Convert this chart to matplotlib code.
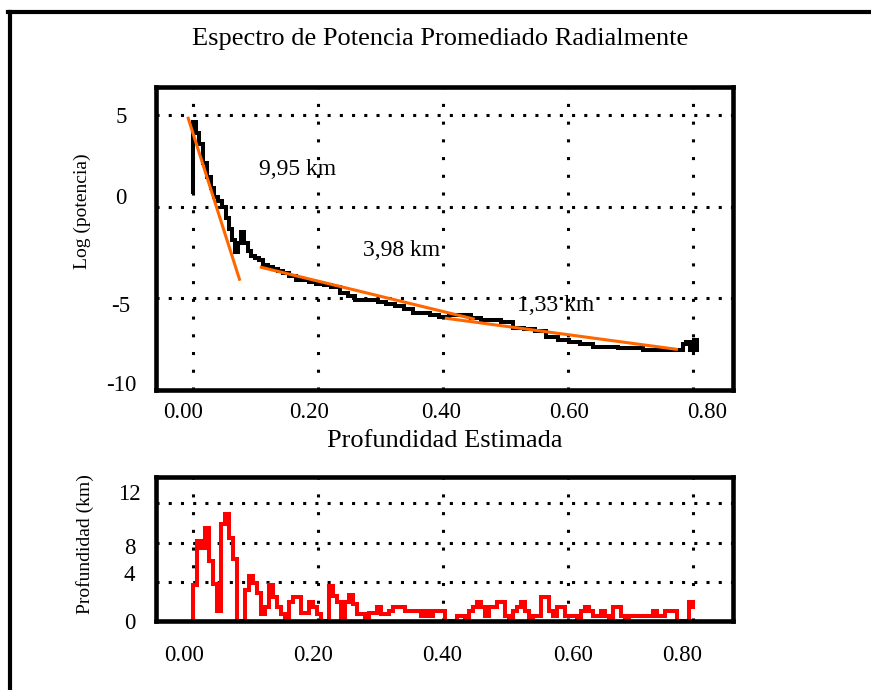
import numpy as np
import matplotlib.pyplot as plt
from matplotlib.lines import Line2D

plt.rcParams['font.family'] = ['Liberation Serif', 'DejaVu Serif']

# espectro promediado radialmente: número de onda vs log(potencia)
k_espectro = [0.000, 0.000, 0.006, 0.011, 0.017, 0.023, 0.029, 0.035, 0.041, 0.047,
              0.053, 0.058, 0.063, 0.068, 0.073, 0.078, 0.083, 0.088, 0.094, 0.100,
              0.106, 0.113, 0.120, 0.128, 0.136, 0.145, 0.155, 0.166, 0.176, 0.187,
              0.198, 0.210, 0.222, 0.236, 0.248, 0.260, 0.272, 0.284, 0.296, 0.310,
              0.324, 0.338, 0.352, 0.366, 0.380, 0.394, 0.410, 0.428, 0.446, 0.462,
              0.478, 0.494, 0.512, 0.530, 0.548, 0.566, 0.584, 0.602, 0.620, 0.640,
              0.660, 0.680, 0.700, 0.720, 0.740, 0.760, 0.776, 0.784, 0.790, 0.796,
              0.802, 0.807]
log_potencia = [0.8, 4.6, 4.0, 3.4, 2.4, 1.6, 1.0, 0.5, 0.3, 0.0,
                -0.6, -1.2, -1.8, -2.5, -2.0, -1.4, -2.0, -2.4, -2.7, -2.8,
                -2.9, -3.2, -3.3, -3.4, -3.5, -3.6, -3.8, -4.0, -4.0, -4.1,
                -4.2, -4.3, -4.4, -4.7, -4.9, -5.1, -5.1, -5.1, -5.2, -5.3,
                -5.4, -5.6, -5.8, -5.8, -5.9, -6.0, -5.9, -5.9, -6.1, -6.2,
                -6.2, -6.3, -6.6, -6.7, -6.8, -7.1, -7.3, -7.4, -7.5, -7.65,
                -7.65, -7.7, -7.7, -7.8, -7.8, -7.8, -7.8, -7.5, -7.4, -7.8,
                -7.3, -7.8]

# rectas ajustadas a cada tramo del espectro
tramo_k = [(-0.007, 0.075), (0.110, 0.449), (0.406, 0.774)]
tramo_y = [(4.82, -3.96), (-3.31, -6.12), (-6.09, -7.78)]
etiquetas = ['9,95 km', '3,98 km', '1,33 km']
etiqueta_k = [0.168, 0.335, 0.581]
etiqueta_y = [2.0, -2.37, -5.37]

# profundidad estimada por ventana
paso_k = 0.0064
profundidad = [3.7, 8.2, 7.5, 9.5, 6.1, 3.8, 1.0, 9.9, 10.9, 8.5,
               6.3, 0, 0, 3.2, 4.6, 3.9, 2.9, 0.7, 1.4, 3.7,
               2.4, 1.4, 0.7, 0, 1.9, 2.4, 2.4, 0.8, 0.8, 1.9,
               1.4, 0.7, 0, 0, 3.6, 2.6, 1.9, 0, 1.9, 2.7,
               1.7, 0.7, 0.7, 0, 0.8, 0.8, 1.4, 0.7, 0.7, 1.0,
               1.4, 1.4, 1.4, 1.0, 1.0, 1.0, 1.0, 0.5, 1.0, 0.5,
               1.0, 1.0, 1.0, 0, 0, 0, 0.5, 0.5, 0, 1.0,
               1.4, 1.9, 1.4, 0.5, 1.4, 1.4, 1.9, 1.9, 0.5, 0,
               1.0, 1.4, 1.9, 1.0, 0, 0.5, 0.5, 2.4, 2.4, 1.0,
               0.5, 1.4, 1.4, 0.5, 0.5, 0.5, 0, 1.0, 1.4, 1.0,
               0.5, 0.5, 1.0, 0.5, 0, 1.4, 1.4, 0.5, 0, 0.5,
               0.5, 0.5, 0.5, 0.5, 0.5, 1.0, 0.5, 0.5, 1.0, 1.0,
               1.0, 0, 0, 0, 1.9, 1.4]
k_prof = paso_k * np.arange(len(profundidad))

# rejilla y rótulos (los rótulos no caen justo sobre la rejilla)
xgrid = [0.0, 0.2, 0.4, 0.6, 0.8]
xlab = ['0.00', '0.20', '0.40', '0.60', '0.80']
xpos_sup = [-0.0155, 0.187, 0.398, 0.603, 0.823]
xpos_inf = [-0.0139, 0.192, 0.400, 0.608, 0.783]
ygrid_sup = [5, 0, -5, -10]
ypos_sup = [5, 0.6, -5.3, -9.6]
ylab_sup = ['5', '0', '-5', '-10']
ygrid_inf = [0, 4, 8, 12]
ypos_inf = [0, 4.9, 7.65, 13.16]
ylab_inf = ['0', '4', '8', '12']

fig = plt.figure(figsize=(8.71, 6.90), dpi=100)
ax1 = fig.add_axes([0.179, 0.4348, 0.6625, 0.4392])
ax2 = fig.add_axes([0.179, 0.100, 0.6625, 0.2087])


def estilo(ax, xpos, ygrid, ypos, ylab):
    for s in ax.spines.values():
        s.set_linewidth(3.3)
        s.set_color('black')
    ax.set_xlim(-0.0587, 0.8645)
    ax.xaxis.remove_overlapping_locs = False
    ax.yaxis.remove_overlapping_locs = False
    ax.set_xticks(xgrid, minor=True)
    ax.set_xticks(xpos)
    ax.set_xticklabels(xlab)
    ax.set_yticks(ygrid, minor=True)
    ax.set_yticks(ypos)
    ax.set_yticklabels(ylab, ha='center')
    ax.tick_params(which='both', length=0, labelsize=16.5)
    ax.xaxis.grid(True, which='minor', color='black', linewidth=2.2,
                  linestyle=(0, (1, 4.8)))
    ax.yaxis.grid(True, which='minor', color='black', linewidth=2.2,
                  linestyle=(0, (1, 3.0)))
    ax.grid(False, which='major')
    ax.set_axisbelow(True)


# panel superior
estilo(ax1, xpos_sup, ygrid_sup, ypos_sup, ylab_sup)
ax1.set_ylim(-10.0, 6.53)
ax1.tick_params(axis='y', pad=25)
ax1.tick_params(axis='x', pad=9)
ax1.plot(k_espectro, log_potencia, drawstyle='steps-post', color='black',
         lw=2.9, solid_joinstyle='miter')
for (k0, k1), (y0, y1) in zip(tramo_k, tramo_y):
    ax1.plot([k0, k1], [y0, y1], color='#ff6600', lw=2.2)
for txt, kx, ky in zip(etiquetas, etiqueta_k, etiqueta_y):
    ax1.text(kx, ky, txt, fontsize=17, ha='center', va='center')
ax1.set_xlabel('Profundidad Estimada', fontsize=19, labelpad=5)

# panel inferior
estilo(ax2, xpos_inf, ygrid_inf, ypos_inf, ylab_inf)
ax2.set_ylim(0, 14.7)
ax2.tick_params(axis='y', pad=19)
ax2.tick_params(axis='x', pad=17)
ax2.plot(np.r_[k_prof[0], k_prof], np.r_[0, profundidad], drawstyle='steps-post',
         color='red', lw=2.9, solid_joinstyle='miter')

fig.text(0.505, 0.944, 'Espectro de Potencia Promediado Radialmente',
         fontsize=19, ha='center', va='center')
fig.text(0.095, 1 - 211 / 690, 'Log (potencia)', fontsize=14, rotation=90,
         ha='center', va='center')
fig.text(0.098, 1 - 544 / 690, 'Profundidad (km)', fontsize=14, rotation=90,
         ha='center', va='center')

# marco exterior
fig.add_artist(Line2D([0.0115, 0.0115], [0.0, 0.9833], transform=fig.transFigure,
                      color='black', lw=3))
fig.add_artist(Line2D([0.0095, 1.0], [0.9833, 0.9833], transform=fig.transFigure,
                      color='black', lw=3))

fig.savefig('out.png', dpi=100, facecolor='white')
